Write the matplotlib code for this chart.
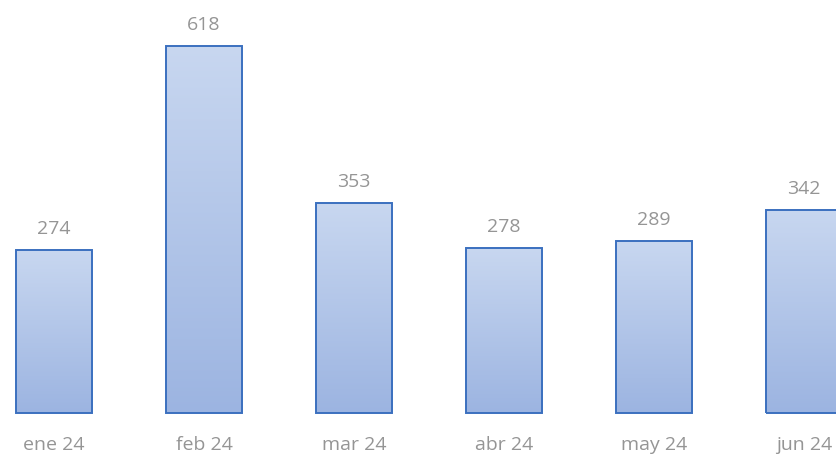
import numpy as np
import matplotlib.pyplot as plt
from matplotlib.colors import LinearSegmentedColormap

months = ["ene 24", "feb 24", "mar 24", "abr 24", "may 24", "jun 24"]
values = [274, 618, 353, 278, 289, 342]

fig = plt.figure(figsize=(8.36, 4.59), dpi=100)
ax = fig.add_axes([0, 0, 1, 1])
fig.patch.set_facecolor("white")

x = np.arange(len(months))
bars = ax.bar(x, values, width=0.507, facecolor="none", edgecolor="#3b70bf", linewidth=1.4, zorder=3)

# soft vertical gradient, darker at the base
cmap = LinearSegmentedColormap.from_list("grad", ["#9cb4e1", "#c8d7f0"])
grad = np.linspace(0, 1, 256).reshape(-1, 1)
for b in bars:
    x0, y0 = b.get_x(), b.get_y()
    w, h = b.get_width(), b.get_height()
    im = ax.imshow(grad, cmap=cmap, origin="lower", aspect="auto",
                   extent=[x0, x0 + w, y0, y0 + h], zorder=2)
    im.set_clip_path(b)

txt = "#959595"
for xi, v in zip(x, values):
    ax.text(xi, v + 20, str(v), ha="center", va="bottom", fontsize=14,
            color=txt, family="Open Sans")
    ax.text(xi, -54, months[xi], ha="center", va="center", fontsize=14,
            color=txt, family="Open Sans")

ax.set_xlim(-0.36, 5.213)
ax.set_ylim(-77.4, 695)
ax.axis("off")

fig.savefig("out.png", dpi=100)
